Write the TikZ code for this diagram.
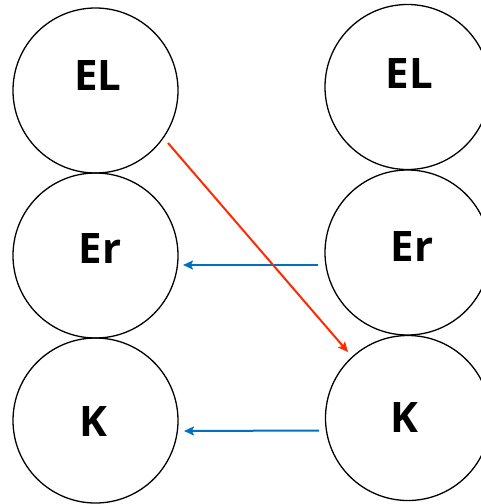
\documentclass[tikz,border=0pt]{standalone}
\usepackage{fontspec}
\setmainfont{Open Sans}
\usetikzlibrary{arrows.meta,calc}
\definecolor{arrblue}{HTML}{0070C0}
\definecolor{arrred}{HTML}{FF2A00}
\tikzset{
  circ/.style={circle,draw=black,line width=1.3pt,minimum size=165pt,inner sep=0pt},
  lbl/.style={font=\fontsize{42}{42}\selectfont\bfseries,inner sep=0pt,text=black},
  bluearrow/.style={draw=arrblue,line width=2pt,-{Stealth[length=10pt,width=9pt,inset=2pt]}},
  redarrow/.style={draw=arrred,line width=2pt,-{Stealth[length=10pt,width=9pt,inset=2pt]}}
}
\begin{document}
\begin{tikzpicture}[x=1pt,y=-1pt]
\useasboundingbox (0,0) rectangle (481,504);
\clip (0,0) rectangle (481,504);
% left column
\node[circ] (elL) at (95.5,90.5) {};
\node[circ] (erL) at (95.5,255.5) {};
\node[circ] (kL) at (95.5,420.5) {};
% right column
\node[circ] (elR) at (407.5,87) {};
\node[circ] (erR) at (407.5,252.5) {};
\node[circ] (kR) at (408,418) {};
% labels
\node[lbl] (tElL) at (98,76) {EL};
\node[lbl] (tErL) at (100,249) {Er};
\node[lbl] (tKL) at (93,422) {K};
\node[lbl] (tElR) at (409.5,73.5) {EL};
\node[lbl] (tErR) at (412,246.5) {Er};
\node[lbl] (tKR) at (404.5,418) {K};
% connectors
\draw[bluearrow] ($(erR.center)+(-89.5,12.5)$) -- ($(erL.center)+(87.5,9.5)$);
\draw[bluearrow] ($(kR.center)+(-89,12.5)$) -- ($(kL.center)+(88.5,10.5)$);
\draw[redarrow] ($(elL.center)+(72.5,52.5)$) -- ($(kR.center)+(-60,-66)$);
\end{tikzpicture}
\end{document}
